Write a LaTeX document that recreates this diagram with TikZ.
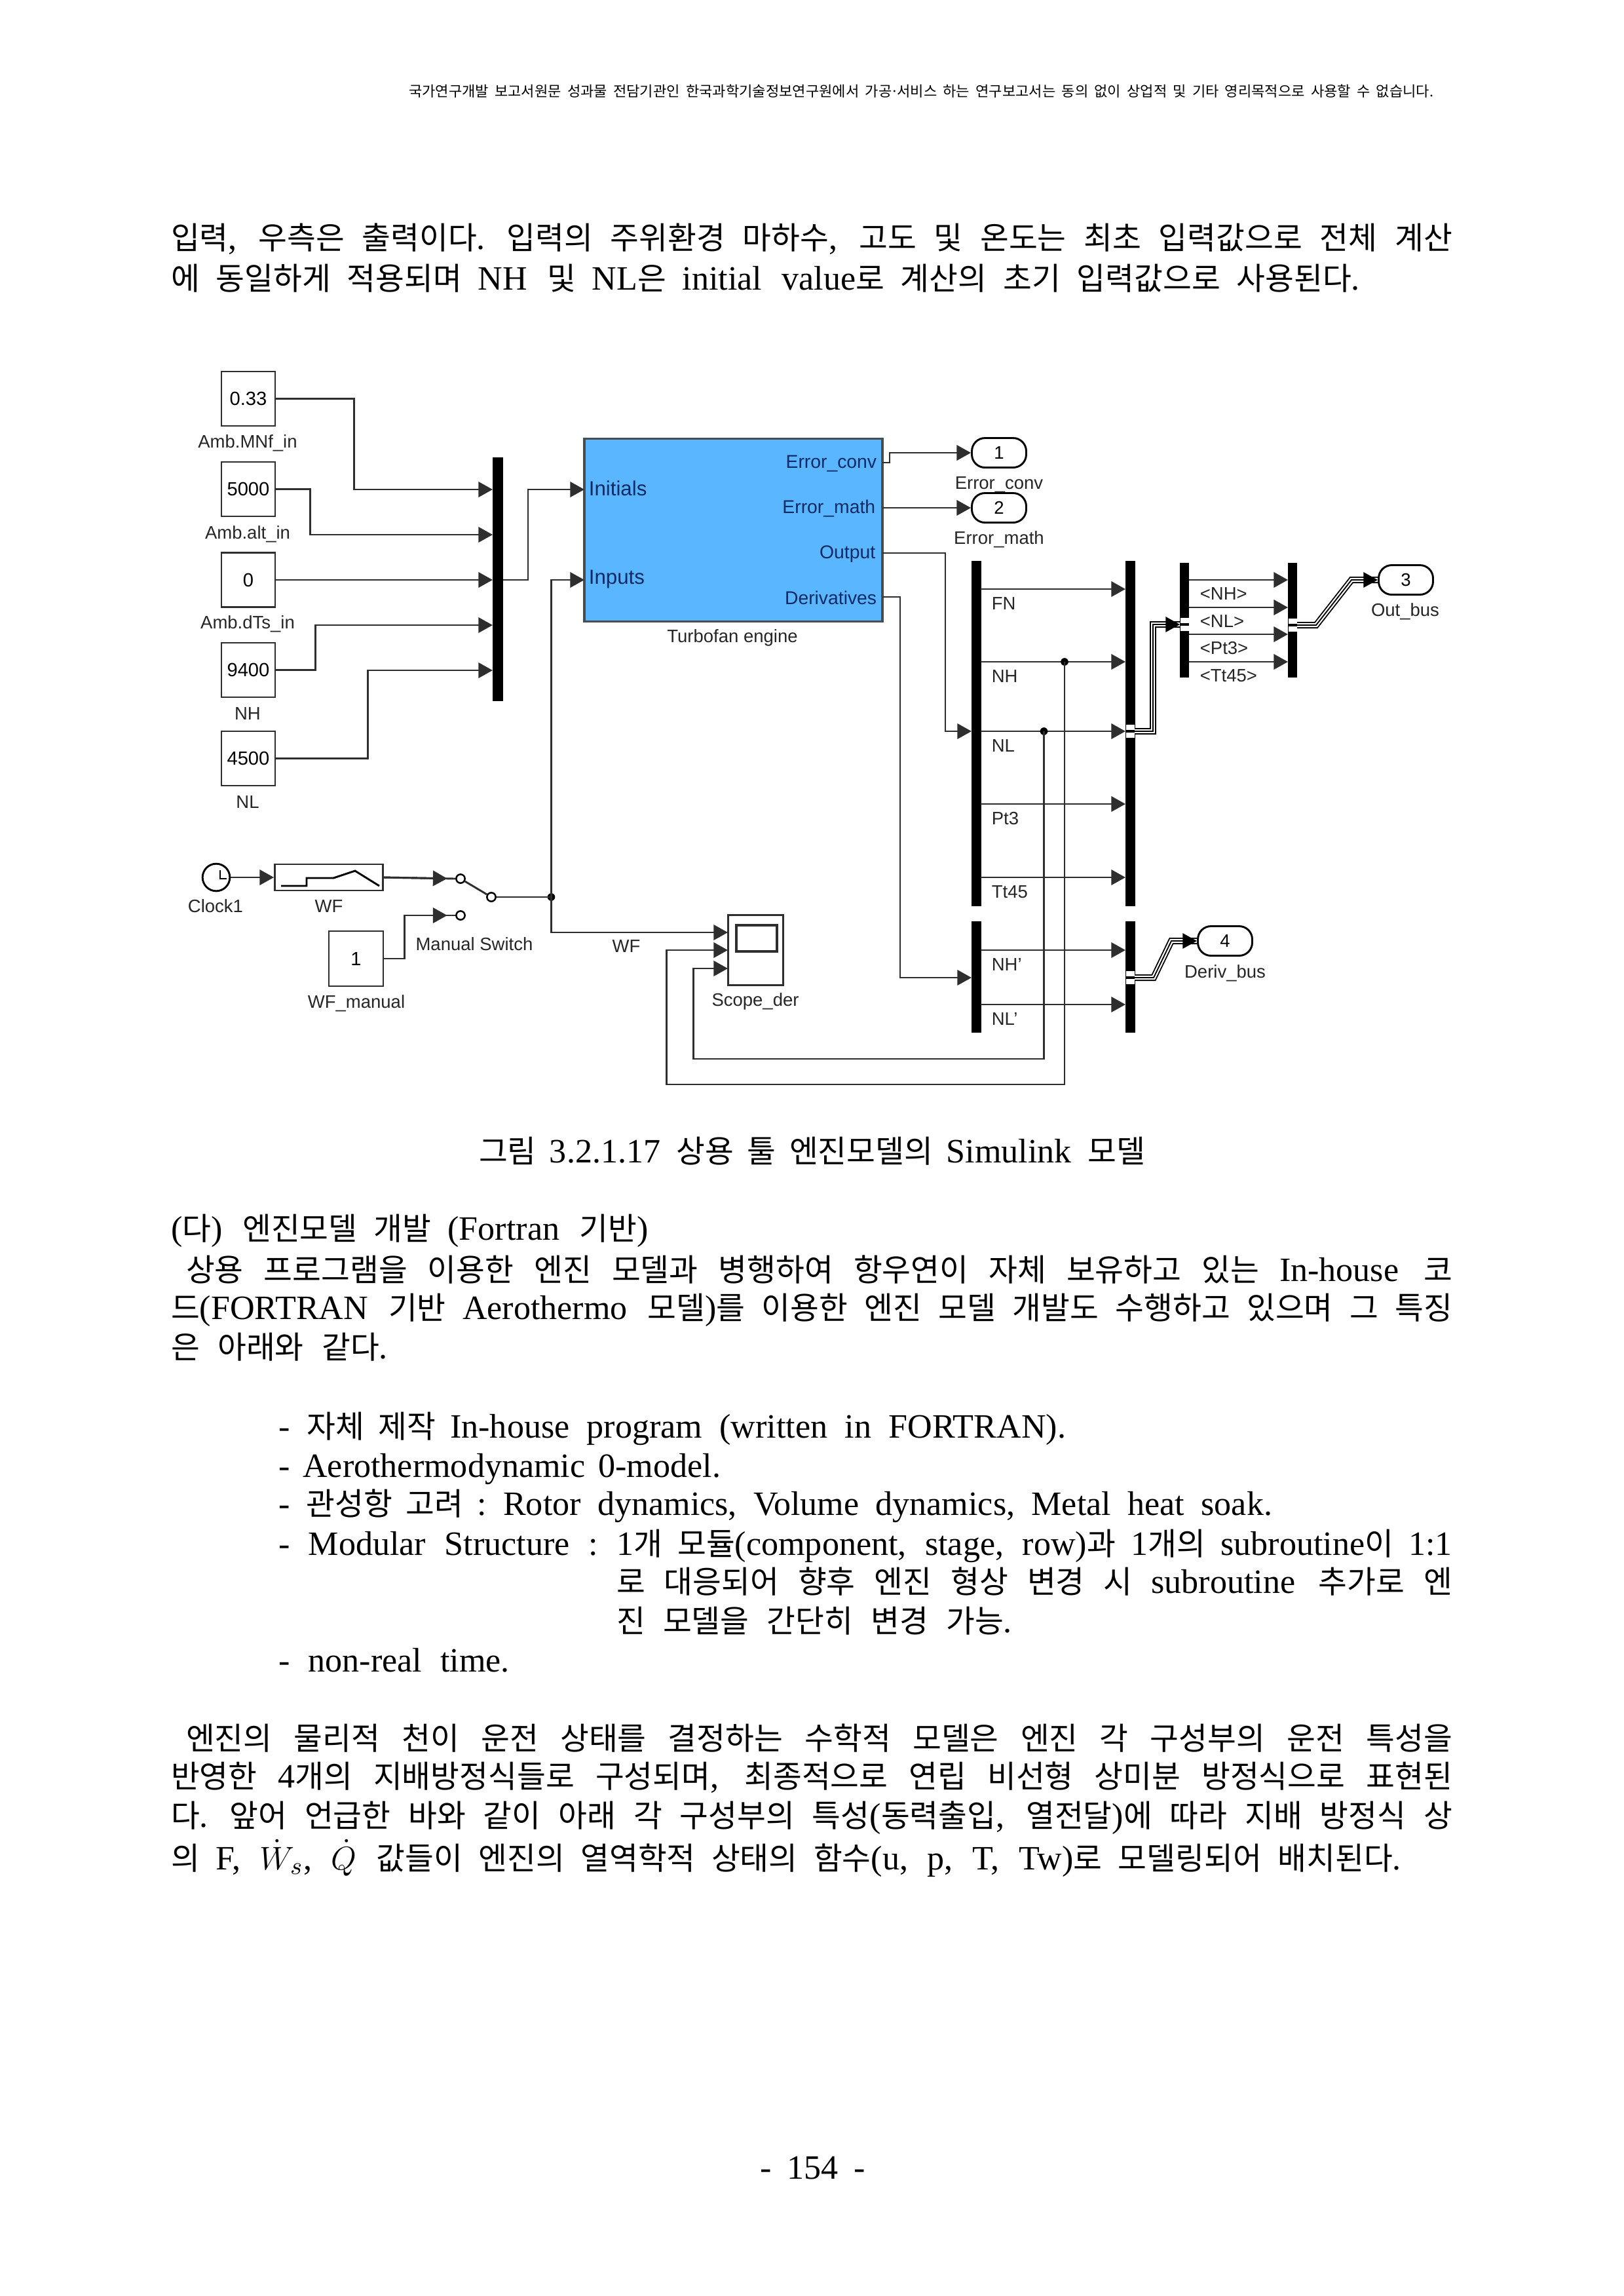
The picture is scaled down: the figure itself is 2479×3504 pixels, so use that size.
\documentclass[tikz,border=0pt]{standalone}
\usepackage{fontspec}
\usetikzlibrary{arrows.meta}
\setmainfont{Liberation Serif}
\setsansfont{Liberation Sans}
\newfontfamily\krfont{Noto Sans CJK KR}[Scale=0.915]

% hangul syllables switch to the korean font by themselves
\newXeTeXintercharclass\hangulclass
\count255="AC00
\loop\ifnum\count255<"D7A4
  \XeTeXcharclass\count255=\hangulclass
  \advance\count255 by 1
\repeat
\XeTeXinterchartoks 0 \hangulclass={\krfont}
\XeTeXinterchartoks 4095 \hangulclass={\krfont}
\XeTeXinterchartoks \hangulclass 0={\rmfamily}
\XeTeXinterchartoks 4095 0={\rmfamily}
\newcommand\bodyfont{\rmfamily\fontsize{12.5}{15}\selectfont\frenchspacing\XeTeXinterchartokenstate=1 }
\newcommand\headfont{\rmfamily\fontsize{5.8}{7}\selectfont\frenchspacing\XeTeXinterchartokenstate=1 }

% one line of text between two x values, its spaces stretched to fit
\newcommand\tline[5]{\node[txt] (#1) at (#2,#4+2) {\makebox[\dimexpr.24pt*(#3-#2)\relax][s]{#5}};}

\definecolor{engblue}{HTML}{5AB6FF}
\definecolor{portblue}{HTML}{0B2A66}
\definecolor{wirecol}{HTML}{2E2E2E}

\tikzset{
  blocksize/.style 2 args={minimum width=#1*.24pt,minimum height=#2*.24pt},
  txt/.style={anchor=base west,inner sep=0pt,outer sep=0pt,font=\bodyfont},
  const/.style={rectangle,draw=wirecol,line width=.7pt,fill=white,inner sep=0pt,font=\sffamily\fontsize{7}{8}\selectfont},
  lab/.style={inner sep=0pt,font=\sffamily\fontsize{6.6}{8}\selectfont,text=black!85},
  port/.style={inner sep=0pt,font=\sffamily\fontsize{6.8}{8}\selectfont,text=portblue},
  bigport/.style={port,font=\sffamily\fontsize{7.5}{8}\selectfont},
  bar/.style={rectangle,fill=black,inner sep=0pt},
  outp/.style={rectangle,draw=black,line width=.7pt,rounded corners=4.8pt,blocksize={83}{45},inner sep=0pt,font=\sffamily\fontsize{6.6}{8}\selectfont},
  contact/.style={circle,draw=black,line width=.6pt,fill=white,inner sep=0pt,minimum size=3.2pt},
  dot/.style={circle,fill=black,inner sep=0pt,minimum size=2.8pt},
  seg/.style={draw=wirecol,line width=.7pt},
  wire/.style={seg,->},
  busport/.style={rectangle,fill=white,inner sep=0pt,blocksize={13}{8}},
  bus/.style={draw=black,line width=.45pt,double=white,double distance=1.5pt,
    postaction={draw=black,line width=.45pt,double=none,->}}
}

\begin{document}
\begin{tikzpicture}[x=.24pt,y=-.24pt,>={Triangle[length=5.2pt,width=5.6pt]}]
  \path[use as bounding box,fill=white] (0,0) rectangle (2479,3504);

  % page text
  \node[txt,font=\headfont] (head) at (624,147) {\makebox[375.4pt][s]{국가연구개발 보고서원문 성과물 전담기관인 한국과학기술정보연구원에서 가공·서비스 하는 연구보고서는 동의 없이 상업적 및 기타 영리목적으로 사용할 수 없습니다.}};
  \tline{t1}{261}{2217}{378}{입력, 우측은 출력이다. 입력의 주위환경 마하수, 고도 및 온도는 최초 입력값으로 전체 계산}
  \tline{t2}{261}{2076}{440}{에 동일하게 적용되며 NH 및 NL은 initial value로 계산의 초기 입력값으로 사용된다.}
  \tline{cap}{731}{1748}{1772}{그림 3.2.1.17 상용 툴 엔진모델의 Simulink 모델}
  \tline{t3}{261}{990}{1890}{(다) 엔진모델 개발 (Fortran 기반)}
  \tline{t4}{284}{2217}{1953}{상용 프로그램을 이용한 엔진 모델과 병행하여 항우연이 자체 보유하고 있는 In-house 코}
  \tline{t5}{261}{2217}{2011}{드(FORTRAN 기반 Aerothermo 모델)를 이용한 엔진 모델 개발도 수행하고 있으며 그 특징}
  \tline{t6}{261}{592}{2071}{은 아래와 같다.}
  \tline{l1}{425}{1627}{2192}{- 자체 제작 In-house program (written in FORTRAN).}
  \tline{l2}{425}{1100}{2252}{- Aerothermodynamic 0-model.}
  \tline{l3}{425}{1942}{2310}{- 관성항 고려 :  Rotor dynamics, Volume dynamics, Metal heat soak.}
  \tline{l4}{425}{2217}{2371}{- Modular Structure : 1개 모듈(component, stage, row)과 1개의 subroutine이 1:1}
  \tline{l5}{941}{2217}{2429}{로 대응되어 향후 엔진 형상 변경 시 subroutine 추가로 엔}
  \tline{l6}{941}{1545}{2489}{진 모델을 간단히 변경 가능.}
  \tline{l7}{425}{778}{2549}{- non-real time.}
  \tline{t7}{284}{2217}{2668}{엔진의 물리적 천이 운전 상태를 결정하는 수학적 모델은 엔진 각 구성부의 운전 특성을}
  \tline{t8}{261}{2217}{2726}{반영한 4개의 지배방정식들로 구성되며, 최종적으로 연립 비선형 상미분 방정식으로 표현된}
  \tline{t9}{261}{2217}{2786}{다. 앞어 언급한 바와 같이 아래 각 구성부의 특성(동력출입, 열전달)에 따라 지배 방정식 상}
  \tline{t10}{261}{2139}{2851}{의 F, $\dot{W}_s$, $\dot{Q}$ 값들이 엔진의 열역학적 상태의 함수(u, p, T, Tw)로 모델링되어 배치된다.}
  \tline{pnum}{1160}{1321}{3323}{- 154 -}

  % constants on the left
  \node[const,blocksize={82}{83}] (k033) at (379,608.5) {0.33};
  \node[const,blocksize={82}{83}] (k5000) at (379,746.5) {5000};
  \node[const,blocksize={82}{83}] (k0) at (379,885) {0};
  \node[const,blocksize={82}{83}] (k9400) at (379,1022.5) {9400};
  \node[const,blocksize={82}{83}] (k4500) at (379,1157.5) {4500};
  \node[lab] (lk033) at (378,676) {Amb.MNf\_in};
  \node[lab] (lk5000) at (378,815) {Amb.alt\_in};
  \node[lab] (lk0) at (378,952) {Amb.dTs\_in};
  \node[lab] (lk9400) at (378,1089) {NH};
  \node[lab] (lk4500) at (378,1224) {NL};

  \node[bar,blocksize={16}{372}] (muxin) at (760,884) {};
  \foreach \i/\y in {1/747,2/816,3/885,4/954,5/1023}
    \coordinate (mi\i) at (752,\y);
  \coordinate (muxout) at (768,885);

  % engine block
  \node[rectangle,draw=black!70,line width=.8pt,fill=engblue,blocksize={455}{279}] (engine) at (1119.5,809) {};
  \coordinate (pinit) at (892,747);
  \coordinate (pinp) at (892,885);
  \coordinate (perr1) at (1347,706);
  \coordinate (perr2) at (1347,775);
  \coordinate (pout) at (1347,844);
  \coordinate (pder) at (1347,911);
  \node[bigport,anchor=west] (tinit) at (898,745) {Initials};
  \node[bigport,anchor=west] (tinp) at (898,884) {Inputs};
  \node[port,anchor=east] (terr1) at (1339,708) {Error\_conv};
  \node[port,anchor=east] (terr2) at (1337,776) {Error\_math};
  \node[port,anchor=east] (tout) at (1337,846) {Output};
  \node[port,anchor=east] (tder) at (1339,912) {Derivatives};
  \node[lab] (leng) at (1118,973) {Turbofan engine};

  % outports
  \node[outp] (o1) at (1525,691) {1};
  \node[outp] (o2) at (1525,775) {2};
  \node[outp] (o3) at (2146,885) {3};
  \node[outp] (o4) at (1870,1436) {4};
  \node[lab] (lo1) at (1525,740) {Error\_conv};
  \node[lab] (lo2) at (1525,823) {Error\_math};
  \node[lab] (lo3) at (2145,933) {Out\_bus};
  \node[lab] (lo4) at (1870,1485) {Deriv\_bus};

  % demux and bus blocks
  \node[bar,blocksize={15}{527}] (dem1) at (1490,1119.5) {};
  \node[bar,blocksize={15}{527}] (bus1) at (1725,1119.5) {};
  \node[bar,blocksize={15}{170}] (dem2) at (1490,1491) {};
  \node[bar,blocksize={15}{170}] (bus2) at (1725,1491) {};
  \node[bar,blocksize={14}{175}] (sel) at (1808,946.5) {};
  \node[bar,blocksize={14}{175}] (bus3) at (1973,946.5) {};
  \foreach \b/\y in {bus1/1116,bus2/1492,sel/953,bus3/954} {
    \node[busport] (\b u) at (\b |- 0,\y-6) {};
    \node[busport] (\b d) at (\b |- 0,\y+6) {};
  }

  \foreach \w/\y/\t in {fn/899/FN,nh/1010/NH,nl/1116/NL,pt/1227/Pt3,tt/1339/Tt45,ndh/1450/NH',ndl/1533/NL'} {
    \coordinate (\w a) at (1497,\y);
    \coordinate (\w b) at (1718,\y);
    \draw[wire] (\w a) -- (\w b);
    \node[lab,anchor=west] (l\w) at (1513,\y+22) {\t};
  }
  \foreach \w/\y/\t in {snh/885/<NH>,snl/927/<NL>,spt/968/<Pt3>,stt/1010/<Tt45>} {
    \coordinate (\w a) at (1815,\y);
    \coordinate (\w b) at (1966,\y);
    \draw[wire] (\w a) -- (\w b);
    \node[lab,anchor=west] (l\w) at (1831,\y+21) {\t};
  }

  % signal routing
  \draw[wire] (k033.east) -- ++(119,0) |- (mi1);
  \draw[wire] (k5000.east) -- ++(52,0) |- (mi2);
  \draw[wire] (k0.east) -- (mi3);
  \draw[wire] (k9400.east) -- ++(60,0) |- (mi4);
  \draw[wire] (k4500.east) -- ++(140,0) |- (mi5);
  \draw[wire] (muxout) -- ++(38,0) |- (pinit);
  \draw[wire] (perr1) -- ++(11,0) |- (o1.west);
  \draw[wire] (perr2) -- (o2.west);
  \coordinate (nlin) at (1483,1116);
  \coordinate (din) at (1483,1492);
  \draw[wire] (pout) -- ++(96,0) |- (nlin);
  \draw[wire] (pder) -- ++(27,0) |- (din);

  % bus signals
  \coordinate (bus1out) at (1732,1116);
  \coordinate (selin) at (1801,953);
  \coordinate (bus2out) at (1732,1492);
  \coordinate (bus3out) at (1980,954);
  \draw[bus] (bus1out) -- ++(28,0) |- (selin);
  \draw[bus] (bus3out) -- ++(29,0) -- (2063,885) -- (o3.west);
  \draw[bus] (bus2out) -- ++(29,0) -- (1788,1436) -- (o4.west);

  % clock, table and switch
  \node[circle,draw=black,line width=.7pt,minimum size=10pt,inner sep=0pt] (clock) at (330,1339) {};
  \draw[line width=.6pt] (336,1328) -- (336,1341) -- (346,1341);
  \node[const,blocksize={165}{40}] (table) at (502,1339) {};
  \draw[line width=.7pt] (429,1352) -- (468,1352) -- (468,1340) -- (509,1340) -- (542,1329) -- (579,1352);
  \node[contact] (sw1) at (703,1341) {};
  \node[contact] (sw2) at (703,1397) {};
  \node[contact] (swout) at (750,1369) {};
  \node[const,blocksize={83}{84}] (kman) at (543.5,1463) {1};
  \node[lab] (lclock) at (329,1383) {Clock1};
  \node[lab] (ltable) at (502,1383) {WF};
  \node[lab] (lsw) at (724,1441) {Manual Switch};
  \node[lab] (lman) at (544,1531) {WF\_manual};
  \node[lab] (lwf) at (956,1444) {WF};

  % scope
  \node[const,blocksize={84}{107}] (scope) at (1153.5,1450) {};
  \node[rectangle,draw=wirecol,line width=.8pt,blocksize={62}{40},inner sep=0pt] (screen) at (1155,1432) {};
  \node[lab] (lscope) at (1153,1528) {Scope\_der};
  \coordinate (sc1) at (1111,1423);
  \coordinate (sc2) at (1111,1450);
  \coordinate (sc3) at (1111,1478);

  \node[dot] (jwf) at (841.5,1369) {};
  \node[dot] (jnh) at (1625,1010) {};
  \node[dot] (jnl) at (1593.5,1116) {};

  \draw[wire] (clock.east) -- (table.west);
  \draw[seg] (table.east) -- (sw1.west);
  \draw[wire,shorten >=3pt] (table.east) -- (sw1.west);
  \draw[seg] (kman.east) -- ++(31,0) |- (sw2.west);
  \draw[wire,shorten >=3pt] (kman.east) -- ++(31,0) |- (sw2.west);
  \draw[seg] (sw1) -- (swout);
  \draw[seg] (swout.east) -- (jwf.center);
  \draw[wire] (jwf.center) |- (pinp);
  \draw[wire] (jwf.center) |- (sc1);
  \draw[wire] (jnh.center) -- ++(0,645) -- ++(-607.5,0) |- (sc2);
  \draw[wire] (jnl.center) -- ++(0,500) -- ++(-535,0) |- (sc3);
\end{tikzpicture}
\end{document}
